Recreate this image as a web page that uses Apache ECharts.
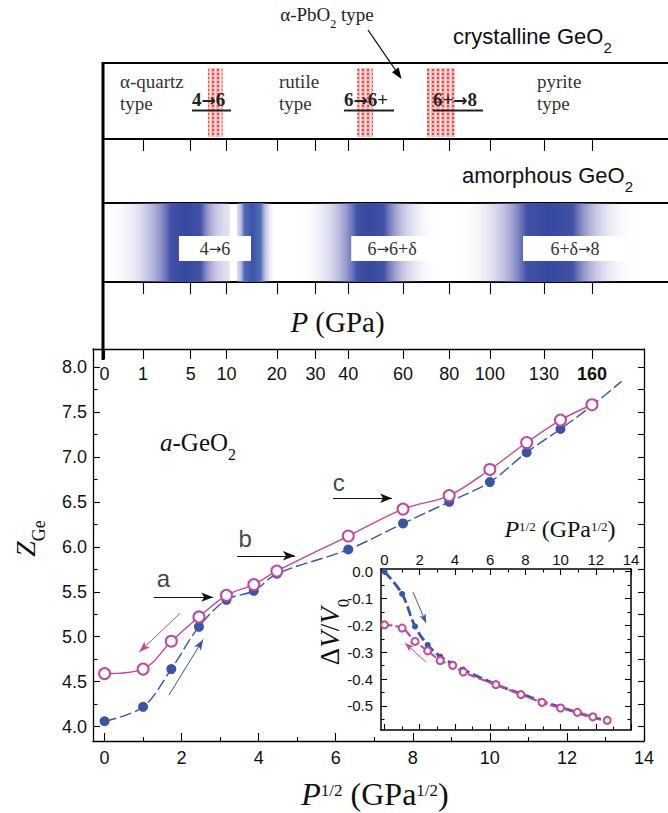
<!DOCTYPE html>
<html>
<head>
<meta charset="utf-8">
<script src="https://cdn.jsdelivr.net/npm/echarts@6/dist/echarts.min.js"></script>
<style>
html,body{margin:0;padding:0;background:#fff;}
#chart{width:668px;height:813px;}
</style>
</head>
<body>
<div id="chart"></div>
<script>
// ---------------- data ----------------
const pressureGPa = [0, 1, 3, 6, 10, 15, 20, 40, 60, 80, 100, 120, 140, 160];
const zGeCompression = [4.06, 4.22, 4.64, 5.11, 5.41, 5.51, 5.70, 5.97, 6.26, 6.50, 6.72, 7.05, 7.31];
const zGeCompressionTailP = [160, 180];
const zGeCompressionTail = [7.57, 7.84];
const zGeDecompression = [4.59, 4.64, 4.95, 5.22, 5.46, 5.58, 5.73, 6.12, 6.42, 6.57, 6.86, 7.16, 7.41, 7.58];
const dVCompression = [0.0, -0.083, -0.204, -0.273, -0.316, -0.343, -0.365, -0.420, -0.455, -0.483, -0.505, -0.525, -0.543, -0.555];
const dVDecompression = [-0.198, -0.210, -0.260, -0.295, -0.331, -0.349, -0.374, -0.421, -0.458, -0.487, -0.508, -0.524, -0.541, -0.554];

const topTickP = [0, 1, 5, 10, 20, 30, 40, 60, 80, 100, 130, 160];
const stripTickP = [1, 5, 10, 20, 30, 40, 60, 80, 100, 130, 160];
const mainXTicks = [0, 2, 4, 6, 8, 10, 12, 14];
const mainXMinor = [1, 3, 5, 7, 9, 11, 13];
const mainYTicks = [4.0, 4.5, 5.0, 5.5, 6.0, 6.5, 7.0, 7.5, 8.0];
const mainYMinor = [4.25, 4.75, 5.25, 5.75, 6.25, 6.75, 7.25, 7.75];
const insetXTicks = [0, 2, 4, 6, 8, 10, 12, 14];
const insetXMinor = [1, 3, 5, 7, 9, 11, 13];
const insetYTicks = [0, -0.1, -0.2, -0.3, -0.4, -0.5];
const insetYMinor = [-0.05, -0.15, -0.25, -0.35, -0.45, -0.55];

const crystTransitionP = [[7.2, 9.4], [43, 48.5], [70, 82.6]];
const crystTransitionLabels = ['4→6', '6→6+', '6+→8'];
const amorphBandsSqrtP = [[0.09, 1.72, 2.5, 3.25], [3.44, 3.62, 4.05, 4.45], [5.07, 6.55, 7.25, 8.63], [9.23, 10.95, 12.15, 13.77]];
const amorphLabels = ['4→6', '6→6+δ', '6+δ→8'];
const amorphLabelSqrtP = [[1.93, 3.80], [6.40, 8.52], [10.86, 13.56]];

// annotation arrows [x1, y1, x2, y2] in axis units
const mainArrows = [[1.28, 5.44, 2.82, 5.44], [3.44, 5.90, 4.94, 5.90], [5.93, 6.54, 7.46, 6.54]];
const mainArrowLabels = ['a', 'b', 'c'];
const mainArrowLabelPos = [[1.53, 5.65], [3.65, 6.09], [6.08, 6.72]];
const mainDecompArrow = [1.96, 5.26, 0.90, 4.83];
const mainCompArrow = [1.67, 4.35, 2.56, 4.97];
const insetCompArrow = [1.62, -0.076, 2.36, -0.191];
const insetDecompArrow = [2.36, -0.337, 1.16, -0.266];

// ---------------- styling ----------------
const SANS = "'Liberation Sans', Arial, Helvetica, sans-serif";
const SERIF = "'Liberation Serif', 'Times New Roman', serif";
const ARROWF = "'DejaVu Sans', sans-serif";
const BLUE = '#3a54a8';
const MAG = '#c4479d';
const sq = Math.sqrt;
const xs = pressureGPa.map(p => sq(p));

const chart = echarts.init(document.getElementById('chart'), null, {renderer: 'svg'});

function axis(gridIndex, position, min, max, o) {
  return {
    type: 'value', gridIndex: gridIndex, position: position, min: min, max: max,
    splitLine: {show: false},
    axisLine: {show: o.line !== false, onZero: false, lineStyle: {color: '#000', width: o.lw || 1.3}},
    axisTick: {show: !!o.ticks, inside: o.inside !== false, length: o.len || 8,
      customValues: o.ticks, lineStyle: {color: '#000', width: o.tw || 1.1}},
    axisLabel: {show: !!o.labels, customValues: o.labels, inside: !!o.labelInside,
      margin: o.margin == null ? 8 : o.margin, formatter: o.fmt, color: '#111',
      fontSize: o.fs || 18, fontFamily: SANS, rich: o.rich}
  };
}

const topSq = topTickP.map(p => sq(p));
const stripSq = stripTickP.map(p => sq(p));

const xAxes = [
  axis(0, 'bottom', -0.3, 14, {ticks: mainXTicks, labels: mainXTicks, len: 8, margin: 8, fmt: v => String(v)}),
  axis(0, 'bottom', -0.3, 14, {ticks: mainXMinor, len: 4, line: false}),
  axis(0, 'top', -0.3, 14, {ticks: topSq, labels: topSq, len: 10, labelInside: true, margin: 16,
    fmt: v => { const i = topSq.findIndex(s => Math.abs(s - v) < 1e-6); const t = String(topTickP[i]); return topTickP[i] === 160 ? '{b|' + t + '}' : t; },
    rich: {b: {fontWeight: 'bold', fontSize: 18, fontFamily: SANS, color: '#111'}}}),
  axis(1, 'top', -0.2, 14, {ticks: insetXTicks, labels: insetXTicks, len: 6, margin: 2, fs: 15, lw: 1.5, fmt: v => String(v)}),
  axis(1, 'top', -0.2, 14, {ticks: insetXMinor, len: 3.5, line: false}),
  axis(1, 'bottom', -0.2, 14, {ticks: insetXTicks, len: 6, lw: 1.5}),
  axis(1, 'bottom', -0.2, 14, {ticks: insetXMinor, len: 3.5, line: false}),
  axis(2, 'bottom', -0.015, 14.623, {ticks: stripSq, inside: false, len: 12, lw: 1.8}),
  axis(2, 'top', -0.015, 14.623, {lw: 2.2}),
  axis(3, 'bottom', -0.015, 14.623, {ticks: stripSq, inside: false, len: 12, lw: 1.8}),
  axis(3, 'top', -0.015, 14.623, {lw: 1.8})
];
const yAxes = [
  axis(0, 'left', 3.84, 8.2, {ticks: mainYTicks, labels: mainYTicks, len: 7, margin: 6, fmt: v => v.toFixed(1)}),
  axis(0, 'left', 3.84, 8.2, {ticks: mainYMinor, len: 4.5, line: false}),
  axis(0, 'right', 3.84, 8.2, {ticks: mainYTicks, len: 6}),
  axis(0, 'right', 3.84, 8.2, {ticks: mainYMinor, len: 6, line: false}),
  axis(1, 'left', -0.59, 0.01, {ticks: insetYTicks, labels: insetYTicks, len: 6, margin: 8, fs: 15, lw: 1.5, fmt: v => v.toFixed(1)}),
  axis(1, 'left', -0.59, 0.01, {ticks: insetYMinor, len: 3.5, line: false}),
  axis(1, 'right', -0.59, 0.01, {ticks: insetYTicks, len: 6, lw: 1.5}),
  axis(1, 'right', -0.59, 0.01, {ticks: insetYMinor, len: 3.5, line: false}),
  {type: 'value', gridIndex: 2, min: 0, max: 1, show: false},
  {type: 'value', gridIndex: 3, min: 0, max: 1, show: false}
];

// red dotted pattern for crystalline transitions
const pc = document.createElement('canvas');
pc.width = 5; pc.height = 4;
const pg = pc.getContext('2d');
pg.fillStyle = '#fdeeee'; pg.fillRect(0, 0, 5, 4);
pg.fillStyle = '#f8b8b8'; pg.fillRect(1, 0, 4, 4);
pg.fillStyle = '#ef4646'; pg.fillRect(2, 1, 2, 2);
const redPattern = {image: pc, repeat: 'repeat', imageWidth: 5, imageHeight: 4};

// smooth blue gradient bands
function mix(a, b, t) { return a.map((v, i) => Math.round(v + (b[i] - v) * t)); }
function bandGradient(b, core, startA, endA) {
  const len = b[3] - b[0];
  const lav = [160, 150, 210];
  const stops = [];
  const N = 10;
  for (let k = 0; k <= N; k++) {
    const t = k / N;
    const x = b[0] + (b[1] - b[0]) * t;
    const a = startA + (1 - startA) * Math.pow(t, 1.8);
    const c = mix(lav, core, Math.pow(t, 2.2));
    stops.push({offset: (x - b[0]) / len, color: 'rgba(' + c.join(',') + ',' + a.toFixed(3) + ')'});
  }
  const mid = (b[1] + b[2]) / 2;
  const dark = mix(core, [45, 65, 155], 0.6);
  stops.push({offset: (mid - b[0]) / len, color: 'rgb(' + dark.join(',') + ')'});
  for (let k = N; k >= 0; k--) {
    const t = k / N;
    const x = b[3] - (b[3] - b[2]) * t;
    const a = endA + (1 - endA) * Math.pow(t, 1.8);
    const c = mix(lav, core, Math.pow(t, 2.2));
    stops.push({offset: (x - b[0]) / len, color: 'rgba(' + c.join(',') + ',' + a.toFixed(3) + ')'});
  }
  return new echarts.graphic.LinearGradient(0, 0, 1, 0, stops);
}
const bandStyle = [
  [[66, 82, 166], 0, 0.3], [[78, 108, 184], 0.4, 0], [[66, 82, 166], 0, 0], [[66, 82, 166], 0, 0]
];

function arrowData(a, color, width) {
  return [{coord: [a[0], a[1]], lineStyle: {color: color, width: width, type: 'solid'}}, {coord: [a[2], a[3]]}];
}
function markArrows(list, size) {
  return {silent: true, animation: false, symbol: ['none', 'arrow'], symbolSize: size,
    label: {show: false}, emphasis: {disabled: true}, data: list};
}
function arrowRich(s) { return s.split('→').map(p => '{n|' + p + '}').join('{a|→}'); }

const series = [
  {
    type: 'line', name: 'compression', xAxisIndex: 0, yAxisIndex: 0, smooth: 0.35, z: 3,
    data: zGeCompression.map((z, i) => [xs[i], z]).concat(
      zGeCompressionTailP.map((p, i) => ({value: [sq(p), zGeCompressionTail[i]], symbol: 'none'}))),
    symbol: 'circle', symbolSize: 10, itemStyle: {color: BLUE},
    lineStyle: {color: BLUE, width: 1.4, type: [12, 4]},
    markLine: markArrows([arrowData(mainCompArrow, BLUE, 1)], [6, 11])
  },
  {
    type: 'line', name: 'decompression', xAxisIndex: 0, yAxisIndex: 0, smooth: 0.35, z: 4,
    data: zGeDecompression.map((z, i) => [xs[i], z]),
    symbol: 'emptyCircle', symbolSize: 11, itemStyle: {color: MAG, borderWidth: 1.2},
    lineStyle: {color: MAG, width: 1.4},
    markLine: markArrows([arrowData(mainDecompArrow, MAG, 1)], [6, 11])
  },
  {
    type: 'scatter', name: 'labels', xAxisIndex: 0, yAxisIndex: 0, z: 5, silent: true,
    data: mainArrowLabels.map((t, i) => ({name: t, value: mainArrowLabelPos[i]})),
    symbolSize: 1, itemStyle: {color: 'rgba(0,0,0,0)'},
    label: {show: true, position: 'inside', formatter: '{b}', fontSize: 24, fontFamily: SANS, color: '#111'},
    markLine: markArrows(mainArrows.map(a => arrowData(a, '#111', 1.2)), [7, 12])
  },
  {
    type: 'line', name: 'dV compression', xAxisIndex: 3, yAxisIndex: 4, smooth: 0.35, z: 6,
    data: dVCompression.map((v, i) => [xs[i], v]),
    symbol: 'circle', symbolSize: 6, itemStyle: {color: BLUE},
    lineStyle: {color: BLUE, width: 2.8, type: [10, 4]},
    markLine: markArrows([arrowData(insetCompArrow, BLUE, 1)], [5, 9])
  },
  {
    type: 'line', name: 'dV decompression', xAxisIndex: 3, yAxisIndex: 4, smooth: 0.35, z: 7,
    data: dVDecompression.map((v, i) => [xs[i], v]),
    symbol: 'emptyCircle', symbolSize: 7, itemStyle: {color: MAG, borderWidth: 1},
    lineStyle: {color: MAG, width: 2.2, type: [8, 3]},
    markLine: markArrows([arrowData(insetDecompArrow, MAG, 1)], [5, 9])
  },
  {
    type: 'scatter', name: 'crystalline', xAxisIndex: 7, yAxisIndex: 8, silent: true,
    data: [[-5, -5]], symbolSize: 0,
    markArea: {silent: true, label: {show: false},
      data: crystTransitionP.map(r => [{xAxis: sq(r[0]), yAxis: 0.026, itemStyle: {color: redPattern, opacity: 1}}, {xAxis: sq(r[1]), yAxis: 0.934}])}
  },
  {
    type: 'scatter', name: 'amorphous', xAxisIndex: 9, yAxisIndex: 9, silent: true, z: 2,
    data: [[-5, -5]], symbolSize: 0,
    markArea: {silent: true, label: {show: false},
      data: amorphBandsSqrtP.map((b, i) => [{xAxis: b[0], yAxis: 0, itemStyle: {color: bandGradient(b, bandStyle[i][0], bandStyle[i][1], bandStyle[i][2]), opacity: 1}}, {xAxis: b[3], yAxis: 1}])}
  },
  {
    type: 'scatter', name: 'amorphous labels', xAxisIndex: 9, yAxisIndex: 9, silent: true, z: 3,
    data: [[-5, -5]], symbolSize: 0,
    markArea: {silent: true,
      label: {show: true, position: 'inside', color: '#333', formatter: p => arrowRich(p.name),
        rich: {n: {fontSize: 18, fontFamily: SERIF, color: '#333'}, a: {fontSize: 15, fontFamily: ARROWF, color: '#333'}}},
      data: amorphLabels.map((t, i) => [{name: t, xAxis: amorphLabelSqrtP[i][0], yAxis: 0.266, itemStyle: {color: '#fff', opacity: 1}}, {xAxis: amorphLabelSqrtP[i][1], yAxis: 0.582}])}
  }
];

// ---------- text helpers ----------
const K_SERIF = 0.3375, K_SANS = 0.3465;
function tok(F, fam, extra) { return Object.assign({fontSize: F, fontFamily: fam, lineHeight: F + 2, verticalAlign: 'top', fill: '#111'}, extra || {}); }
function baseOff(F, k) { return (F + 2) / 2 + k * F; }
function subTok(F, f, fam, k, d) { const p = Math.max(0, baseOff(F, k) + d - f / 2); return {fontSize: f, fontFamily: fam, lineHeight: f, verticalAlign: 'top', padding: [p, 0, 0, 0], fill: '#111'}; }
function supTok(F, f, fam, k, d) { const c = baseOff(F, k) - 0.66 * F + 0.36 * f + d; const p = Math.max(0, c - f / 2); return {fontSize: f, fontFamily: fam, lineHeight: f, verticalAlign: 'top', padding: [p, 0, 0, 0], fill: '#111'}; }
function richText(x, y, text, rich, align, va, rot) {
  return {type: 'text', x: x, y: y, rotation: rot || 0, z: 60, silent: true,
    style: {x: 0, y: 0, text: text, rich: rich, align: align || 'left', verticalAlign: va || 'top', fill: '#111'}};
}
function plainText(x, baseline, text, F, opts) {
  opts = opts || {};
  return {type: 'text', x: x, y: baseline - K_SERIF * F, z: 60, silent: true,
    style: {x: 0, y: 0, text: text, fontSize: F, fontFamily: SERIF, fontWeight: opts.bold ? 'bold' : 'normal',
      fill: opts.color || '#333', align: opts.align || 'left', verticalAlign: 'middle'}};
}
function boldArrowText(x, baseline, text) {
  return richText(x, baseline - baseOff(19, K_SERIF), arrowRich(text), {
    n: tok(19, SERIF, {fontWeight: 'bold', fill: '#222'}),
    a: {fontSize: 17, fontFamily: ARROWF, fontWeight: 'bold', lineHeight: 21, verticalAlign: 'top', fill: '#222', padding: [1, 0, 0, 0]}
  });
}
const crystLabelX = [192, 344, 433];
const crystLabelEnd = [231, 394, 483];

const graphics = [
  {type: 'line', z: 70, silent: true, shape: {x1: 103, y1: 62, x2: 103, y2: 360}, style: {stroke: '#000', lineWidth: 3}},
  // alpha-PbO2 pointer
  {type: 'line', z: 70, silent: true, shape: {x1: 368, y1: 30, x2: 395.5, y2: 70}, style: {stroke: '#000', lineWidth: 1.2}},
  {type: 'polygon', z: 70, silent: true, shape: {points: [[401.5, 79], [392, 72.2], [398.6, 67.6]]}, style: {fill: '#000'}},
  richText(327, 22 - baseOff(19, K_SERIF), '{n|α-PbO}{s|2}{n| type}',
    {n: tok(19, SERIF, {fill: '#222'}), s: subTok(19, 12, SERIF, K_SERIF, 2)}, 'center'),
  richText(453, 45 - baseOff(22, K_SANS), '{n|crystalline GeO}{s|2}',
    {n: tok(22, SANS), s: subTok(22, 15, SANS, K_SANS, 2.5)}),
  richText(462, 184 - baseOff(22, K_SANS), '{n|amorphous GeO}{s|2}',
    {n: tok(22, SANS), s: subTok(22, 15, SANS, K_SANS, 3)}),
  plainText(120, 88, 'α-quartz', 19), plainText(120, 110, 'type', 19),
  plainText(279, 88, 'rutile', 19), plainText(279, 110, 'type', 19),
  plainText(537, 88, 'pyrite', 19), plainText(537, 110, 'type', 19),
  richText(337.5, 333 - baseOff(29, K_SERIF), '{i|P}{n| (GPa)}',
    {i: tok(29, SERIF, {fontStyle: 'italic'}), n: tok(29, SERIF)}, 'center'),
  richText(160, 451.7 - baseOff(25, K_SERIF), '{i|a}{n|-GeO}{s|2}',
    {i: tok(25, SERIF, {fontStyle: 'italic'}), n: tok(25, SERIF), s: subTok(25, 16, SERIF, K_SERIF, 3)}),
  richText(26.8, 538.5, '{i|Z}{s|Ge}',
    {i: tok(28, SERIF, {fontStyle: 'italic'}), s: subTok(28, 18, SERIF, K_SERIF, 3)}, 'center', 'middle', Math.PI / 2),
  richText(331, 632, '{n|Δ}{i|V}{n|/}{i|V}{s|0}',
    {n: tok(27, SERIF), i: tok(27, SERIF, {fontStyle: 'italic'}), s: subTok(27, 17, SERIF, K_SERIF, 3)}, 'center', 'middle', Math.PI / 2),
  richText(375, 806 - baseOff(32, K_SERIF), '{i|P}{p|1/2}{n| (GPa}{p|1/2}{n|)}',
    {i: tok(32, SERIF, {fontStyle: 'italic'}), n: tok(32, SERIF), p: supTok(32, 17, SERIF, K_SERIF, 0)}, 'center'),
  richText(560, 538 - baseOff(24, K_SERIF), '{i|P}{p|1/2}{n| (GPa}{p|1/2}{n|)}',
    {i: tok(24, SERIF, {fontStyle: 'italic'}), n: tok(24, SERIF), p: supTok(24, 13, SERIF, K_SERIF, 0)}, 'center')
];
crystTransitionLabels.forEach((t, i) => {
  graphics.push(boldArrowText(crystLabelX[i], 107, t));
  graphics.push({type: 'line', z: 70, silent: true, shape: {x1: crystLabelX[i], y1: 110.5, x2: crystLabelEnd[i], y2: 110.5}, style: {stroke: '#222', lineWidth: 2}});
});

chart.setOption({
  animation: false,
  backgroundColor: '#fff',
  grid: [
    {left: 93, top: 349, right: 24, bottom: 72},
    {left: 381, top: 569, right: 37, bottom: 83},
    {left: 104, right: 0, top: 63, height: 76},
    {left: 104, right: 0, top: 203, height: 79}
  ],
  xAxis: xAxes,
  yAxis: yAxes,
  series: series,
  graphic: graphics
});
</script>
</body>
</html>
